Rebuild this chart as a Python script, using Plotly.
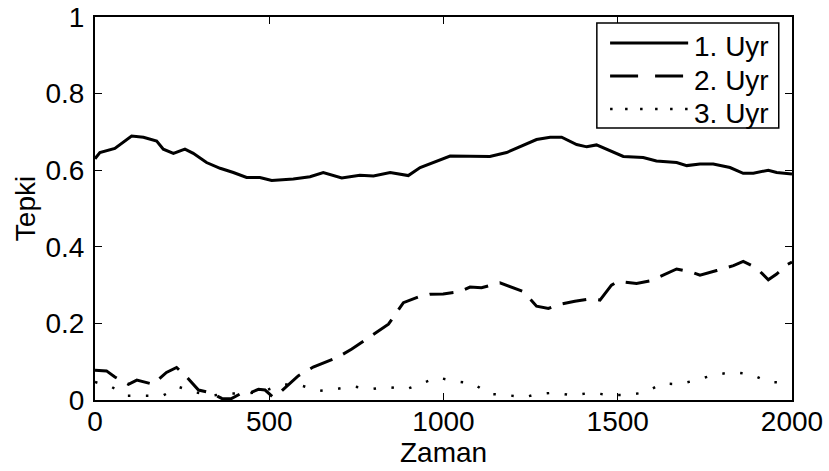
import plotly.graph_objects as go

# ---- data ----
x1 = [0, 14, 57, 105, 139, 177, 196, 225, 258, 282, 320, 359, 397, 435, 473, 507, 569, 617, 655, 708, 760,
      799, 847, 899, 933, 1019, 1133, 1181, 1267, 1306, 1339, 1382, 1411, 1439, 1516, 1573, 1611, 1669, 1698,
      1736, 1774, 1822, 1860, 1889, 1932, 1956, 2000]
y1 = [0.630, 0.646, 0.657, 0.689, 0.686, 0.676, 0.655, 0.644, 0.655, 0.644, 0.620, 0.605, 0.594, 0.581, 0.581,
      0.573, 0.577, 0.583, 0.594, 0.580, 0.587, 0.585, 0.594, 0.586, 0.607, 0.637, 0.636, 0.646, 0.680, 0.686,
      0.686, 0.667, 0.661, 0.666, 0.636, 0.633, 0.624, 0.620, 0.612, 0.616, 0.616, 0.607, 0.592, 0.592, 0.600,
      0.594, 0.590]

x2 = [0, 33, 57, 96, 120, 148, 167, 205, 234, 263, 297, 330, 349, 364, 390, 416, 440, 469, 488, 510, 531, 583,
      626, 693, 737, 799, 842, 885, 928, 961, 999, 1047, 1076, 1109, 1162, 1229, 1267, 1301, 1334, 1377, 1420,
      1449, 1482, 1501, 1554, 1597, 1669, 1712, 1736, 1784, 1832, 1860, 1898, 1932, 1956, 1985, 2000]
y2 = [0.078, 0.076, 0.060, 0.041, 0.052, 0.046, 0.041, 0.072, 0.085, 0.060, 0.026, 0.019, 0.011, 0.004, 0.003,
      0.0155, 0.017, 0.028, 0.026, 0.008, 0.020, 0.063, 0.086, 0.110, 0.133, 0.170, 0.198, 0.254, 0.269, 0.276,
      0.277, 0.283, 0.295, 0.293, 0.306, 0.283, 0.245, 0.239, 0.250, 0.258, 0.264, 0.261, 0.300, 0.310, 0.304,
      0.312, 0.342, 0.334, 0.326, 0.338, 0.351, 0.362, 0.345, 0.314, 0.329, 0.353, 0.360]

x3 = [0, 48, 91, 143, 194, 241, 287, 340, 387, 440, 493, 538, 588, 641, 689, 738, 789, 840, 893, 937, 982,
      1033, 1086, 1129, 1181, 1232, 1265, 1317, 1371, 1423, 1476, 1527, 1580, 1626, 1678, 1728, 1779, 1832,
      1884, 1932, 1983, 2000]
y3 = [0.047, 0.034, 0.011, 0.011, 0.011, 0.034, 0.020, 0.012, 0.017, 0.017, 0.026, 0.041, 0.039, 0.024, 0.028,
      0.036, 0.028, 0.034, 0.028, 0.043, 0.059, 0.049, 0.043, 0.016, 0.013, 0.007, 0.015, 0.019, 0.012, 0.019,
      0.013, 0.013, 0.020, 0.043, 0.041, 0.053, 0.066, 0.073, 0.067, 0.047, 0.046, 0.045]

names = ["1. Uyr", "2. Uyr", "3. Uyr"]
x_ticks = [0, 500, 1000, 1500, 2000]
y_ticks = [0, 0.2, 0.4, 0.6, 0.8, 1]
y_tick_labels = ["0", "0.2", "0.4", "0.6", "0.8", "1"]

FONT = "Liberation Sans, Arial, Helvetica, sans-serif"
FS = 28

styles = [
    dict(color="black", width=3, dash="solid"),
    dict(color="black", width=3, dash="24px,12px"),
    dict(color="black", width=2.5, dash="2.5px,15.5px"),
]
legend_styles = [
    dict(color="black", width=3, dash="solid"),
    dict(color="black", width=3, dash="28px,17px"),
    dict(color="black", width=2.5, dash="2.5px,12.5px"),
]

TOP, BOTTOM = 17, 71
PLOT_H = 471 - TOP - BOTTOM


def py(pixel_y):
    # convert a page pixel row to paper y (used only for legend / title placement)
    return (471 - BOTTOM - pixel_y) / PLOT_H


fig = go.Figure()
for xs, ys, nm, st in zip([x1, x2, x3], [y1, y2, y3], names, styles):
    fig.add_trace(go.Scatter(x=xs, y=ys, mode="lines", name=nm, line=st, showlegend=False))

axis_common = dict(
    showgrid=False, zeroline=False, showline=True, linecolor="black", linewidth=2,
    mirror="allticks", ticks="inside", ticklen=7, tickwidth=1, tickcolor="black",
    tickfont=dict(family=FONT, size=FS, color="black"),
    automargin=False, ticklabeloverflow="allow",
)

fig.update_xaxes(range=[0, 2000], tickvals=x_ticks, ticktext=[str(v) for v in x_ticks],
                 ticklabelstandoff=-5, **axis_common)
fig.update_yaxes(range=[0, 1], tickvals=y_ticks, ticktext=y_tick_labels,
                 ticklabelstandoff=3,
                 title=dict(text="Tepki", font=dict(family=FONT, size=FS, color="black"), standoff=2),
                 **axis_common)

# legend box (drawn in the plot's paper coordinates, like the MATLAB legend)
shapes = [dict(type="rect", xref="paper", yref="paper", x0=0.720, x1=0.981, y0=py(128), y1=py(23),
               line=dict(color="black", width=1.5), fillcolor="white", layer="above")]
annotations = []
row_line_px = [43, 76, 109]
row_text_px = [47, 80, 113]
for nm, st, ly, ty in zip(names, legend_styles, row_line_px, row_text_px):
    shapes.append(dict(type="line", xref="paper", yref="paper", x0=0.739, x1=0.851, y0=py(ly), y1=py(ly),
                       line=st, layer="above"))
    annotations.append(dict(text=nm, xref="paper", yref="paper", x=0.856, y=py(ty), xanchor="left",
                            yanchor="middle", showarrow=False,
                            font=dict(family=FONT, size=FS, color="black")))

# x axis title
annotations.append(dict(text="Zaman", xref="paper", yref="paper", x=0.5, y=py(452), xanchor="center",
                        yanchor="middle", showarrow=False, font=dict(family=FONT, size=FS, color="black")))

fig.update_layout(
    width=829, height=471,
    margin=dict(l=95, r=37, t=TOP, b=BOTTOM),
    plot_bgcolor="white", paper_bgcolor="white",
    font=dict(family=FONT, size=FS, color="black"),
    showlegend=False,
    shapes=shapes, annotations=annotations,
)

fig.write_html("out.html")
